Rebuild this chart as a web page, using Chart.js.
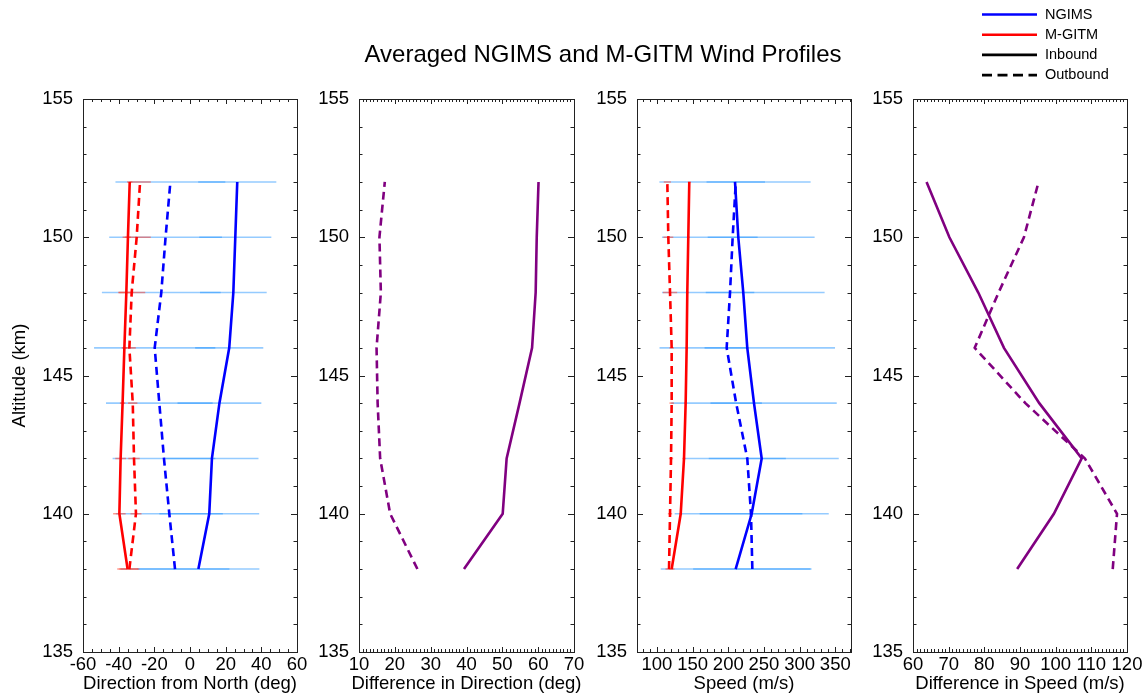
<!DOCTYPE html>
<html>
<head>
<meta charset="utf-8">
<title>Averaged NGIMS and M-GITM Wind Profiles</title>
<script src="https://cdn.jsdelivr.net/npm/chart.js@4.4.0/dist/chart.umd.min.js"></script>
<style>
    html, body { margin: 0; padding: 0; background: #fff; }
    #wrap { position: relative; width: 1147px; height: 696px; }
    #wrap canvas { position: absolute; left: 0; top: 0; }
</style>
</head>
<body>
<div id="wrap">
    <canvas id="direction-chart" width="1147" height="696"></canvas>
    <canvas id="dir-diff-chart" width="1147" height="696"></canvas>
    <canvas id="speed-chart" width="1147" height="696"></canvas>
    <canvas id="speed-diff-chart" width="1147" height="696"></canvas>
</div>
<script>
// altitudes (km), bottom to top
var altitudes = [138, 140, 142, 144, 146, 148, 150, 152];

// direction from north (deg)
var ngimsDirIn = [4.7, 10.8, 12.3, 16.5, 22.0, 24.3, 25.4, 26.5];
var ngimsDirOut = [-8.4, -11.6, -14.6, -17.2, -19.8, -16.1, -13.7, -11.0];
var mgitmDirIn = [-35.0, -39.6, -38.9, -37.8, -36.8, -35.7, -34.8, -33.8];
var mgitmDirOut = [-34.0, -30.3, -31.4, -32.1, -34.0, -32.7, -29.9, -28.0];
var ngimsDirInErr = [34.2, 28.0, 26.1, 23.5, 19.1, 18.7, 20.2, 21.9];
var ngimsDirOutErr = [30.5, 30.0, 28.8, 29.9, 34.0, 33.3, 31.6, 30.8];
var mgitmDirInErr = [5.8, 3.5, 3.0, 1.5, 1.5, 4.0, 1.7, 1.5];
var mgitmDirOutErr = [5.6, 3.1, 3.2, 2.6, 3.6, 7.6, 7.9, 6.0];

// difference in direction (deg)
var dirDiffIn = [39.3, 50.1, 51.2, 54.8, 58.3, 59.3, 59.6, 60.1];
var dirDiffOut = [26.3, 18.7, 15.9, 15.2, 14.9, 16.1, 15.7, 17.2];

// speed (m/s)
var ngimsSpeedIn = [210.3, 232.8, 246.8, 236.0, 226.6, 221.0, 214.0, 209.4];
var ngimsSpeedOut = [233.7, 231.8, 226.6, 211.0, 197.7, 202.4, 206.1, 210.5];
var mgitmSpeedIn = [120.6, 133.3, 137.9, 140.2, 141.6, 142.5, 143.9, 145.3];
var mgitmSpeedOut = [116.9, 118.3, 119.7, 120.6, 120.6, 118.3, 115.9, 114.5];
var ngimsSpeedInErr = [105, 108, 108, 116, 123, 114, 107, 106];
var ngimsSpeedOutErr = [83, 72, 54, 36, 31, 34, 35, 41];
var mgitmSpeedInErr = [4, 2, 2, 2, 2, 2, 2, 2];
var mgitmSpeedOutErr = [5, 3, 3, 3, 3, 10, 7, 5];

// difference in speed (m/s)
var speedDiffIn = [89.2, 99.5, 107.3, 95.4, 85.5, 78.3, 70.2, 63.8];
var speedDiffOut = [116.0, 117.2, 108.2, 91.5, 77.3, 84.0, 91.1, 95.2];

// tick labels
var altTicks = [135, 140, 145, 150, 155];
var dirTicks = [-60, -40, -20, 0, 20, 40, 60];
var dirDiffTicks = [10, 20, 30, 40, 50, 60, 70];
var speedTicks = [100, 150, 200, 250, 300, 350];
var speedDiffTicks = [60, 70, 80, 90, 100, 110, 120];

var legendLabels = ['NGIMS', 'M-GITM', 'Inbound', 'Outbound'];
var chartTitle = 'Averaged NGIMS and M-GITM Wind Profiles';

var BLUE = '#0000ff', RED = '#ff0000', PURPLE = '#800080';
var BAR_BLUE = 'rgba(30, 144, 255, 0.47)', BAR_RED = 'rgba(255, 70, 50, 0.55)';
var DASH = [8, 5];
var FONT = '"Liberation Sans", Arial, Helvetica, sans-serif';

Chart.defaults.font.family = FONT;
Chart.defaults.color = '#000';

function profile(values) {
    return altitudes.map(function (a, i) { return {x: values[i], y: a}; });
}

function errorBars(values, errors) {
    var pts = [];
    altitudes.forEach(function (a, i) {
        pts.push({x: values[i] - errors[i], y: a});
        pts.push({x: values[i] + errors[i], y: a});
        pts.push({x: null, y: null});
    });
    return pts;
}

function line(values, color, dashed) {
    return {
        data: profile(values), showLine: true, borderColor: color, borderWidth: 2.6,
        borderDash: dashed ? DASH : [], pointRadius: 0, order: 0
    };
}

function bars(values, errors, color, order) {
    return {
        data: errorBars(values, errors), showLine: true, borderColor: color, borderWidth: 1.6,
        pointRadius: 0, spanGaps: false, order: order
    };
}

// box round each panel with inward ticks on all four sides, plus the x title
var framePlugin = {
    id: 'frame',
    afterDatasetsDraw: function (chart, args, opts) {
        var ctx = chart.ctx, a = chart.chartArea;
        var xs = chart.scales.x, ys = chart.scales.y;
        var v, p, k, n;
        ctx.save();
        ctx.strokeStyle = '#222';
        ctx.lineWidth = 1;
        ctx.beginPath();
        // x ticks
        k = Math.ceil(xs.min / opts.minor - 1e-9);
        n = Math.floor(xs.max / opts.minor + 1e-9);
        for (; k <= n; k++) {
            v = k * opts.minor;
            p = Math.round(xs.getPixelForValue(v)) + 0.5;
            var len = opts.major.indexOf(v) >= 0 ? 5 : 3;
            ctx.moveTo(p, a.bottom); ctx.lineTo(p, a.bottom - len);
            ctx.moveTo(p, a.top); ctx.lineTo(p, a.top + len);
        }
        // y ticks
        for (v = ys.min; v <= ys.max; v++) {
            p = Math.round(ys.getPixelForValue(v)) + 0.5;
            var ylen = v % 5 === 0 ? 6 : 3.5;
            ctx.moveTo(a.left, p); ctx.lineTo(a.left + ylen, p);
            ctx.moveTo(a.right, p); ctx.lineTo(a.right - ylen, p);
        }
        ctx.stroke();
        ctx.strokeRect(Math.round(a.left) + 0.5, Math.round(a.top) + 0.5,
            Math.round(a.right - a.left), Math.round(a.bottom - a.top));

        ctx.fillStyle = '#000';
        ctx.font = '18.5px ' + FONT;
        ctx.textAlign = 'center';
        ctx.textBaseline = 'middle';
        ctx.fillText(opts.title, (a.left + a.right) / 2, 684);
        ctx.restore();
    }
};

// figure title and key
var headerPlugin = {
    id: 'header',
    afterDraw: function (chart) {
        var ctx = chart.ctx;
        var colors = [BLUE, RED, '#000', '#000'];
        ctx.save();
        ctx.fillStyle = '#000';
        ctx.font = '24px ' + FONT;
        ctx.textAlign = 'center';
        ctx.textBaseline = 'middle';
        ctx.fillText(chartTitle, 603, 55);
        ctx.font = '14.5px ' + FONT;
        ctx.textAlign = 'left';
        ctx.lineWidth = 2.6;
        legendLabels.forEach(function (label, i) {
            var y = 14.5 + i * 20.2;
            ctx.strokeStyle = colors[i];
            ctx.setLineDash(i === 3 ? [10, 5.5] : []);
            ctx.beginPath();
            ctx.moveTo(982, y);
            ctx.lineTo(1037, y);
            ctx.stroke();
            ctx.fillText(label, 1045, y);
        });
        ctx.restore();
    }
};

function makePanel(canvasId, cfg) {
    var yWidth = cfg.yTitle ? cfg.left : 50;
    return new Chart(document.getElementById(canvasId), {
        type: 'scatter',
        data: {datasets: cfg.datasets},
        options: {
            responsive: false, animation: false, devicePixelRatio: 1,
            events: [],
            layout: {
                padding: {left: cfg.left - yWidth, right: 1147 - cfg.right, top: 99, bottom: 0}
            },
            plugins: {
                legend: {display: false},
                tooltip: {enabled: false},
                frame: {minor: cfg.minor, major: cfg.ticks, title: cfg.title}
            },
            scales: {
                x: {
                    type: 'linear', position: 'bottom', min: cfg.min, max: cfg.max,
                    grid: {display: false, drawTicks: false},
                    border: {display: false},
                    afterBuildTicks: function (s) {
                        s.ticks = cfg.ticks.map(function (v) { return {value: v}; });
                    },
                    afterFit: function (s) { s.height = 44; },
                    ticks: {padding: 2, maxRotation: 0, autoSkip: false, font: {size: 18.5}}
                },
                y: {
                    type: 'linear', position: 'left', min: 135, max: 155,
                    grid: {display: false, drawTicks: false},
                    border: {display: false},
                    afterBuildTicks: function (s) {
                        s.ticks = altTicks.map(function (v) { return {value: v}; });
                    },
                    afterFit: function (s) { s.width = yWidth; },
                    ticks: {padding: 10, autoSkip: false, font: {size: 18.5}},
                    title: {
                        display: !!cfg.yTitle, text: cfg.yTitle || '',
                        padding: {top: 9, bottom: 0}, font: {size: 18.5}
                    }
                }
            }
        },
        plugins: cfg.extra ? [framePlugin, headerPlugin] : [framePlugin]
    });
}

makePanel('direction-chart', {
    left: 83, right: 297, min: -60, max: 60, ticks: dirTicks, minor: 5,
    title: 'Direction from North (deg)', yTitle: 'Altitude (km)',
    datasets: [
        line(ngimsDirIn, BLUE, false),
        line(ngimsDirOut, BLUE, true),
        line(mgitmDirIn, RED, false),
        line(mgitmDirOut, RED, true),
        bars(mgitmDirIn, mgitmDirInErr, BAR_RED, 1),
        bars(mgitmDirOut, mgitmDirOutErr, BAR_RED, 1),
        bars(ngimsDirIn, ngimsDirInErr, BAR_BLUE, 2),
        bars(ngimsDirOut, ngimsDirOutErr, BAR_BLUE, 2)
    ]
});

makePanel('dir-diff-chart', {
    left: 359, right: 574, min: 10, max: 70, ticks: dirDiffTicks, minor: 1,
    title: 'Difference in Direction (deg)',
    datasets: [
        line(dirDiffIn, PURPLE, false),
        line(dirDiffOut, PURPLE, true)
    ]
});

makePanel('speed-chart', {
    left: 637, right: 851, min: 72, max: 372, ticks: speedTicks, minor: 10,
    title: 'Speed (m/s)',
    datasets: [
        line(ngimsSpeedIn, BLUE, false),
        line(ngimsSpeedOut, BLUE, true),
        line(mgitmSpeedIn, RED, false),
        line(mgitmSpeedOut, RED, true),
        bars(mgitmSpeedIn, mgitmSpeedInErr, BAR_RED, 1),
        bars(mgitmSpeedOut, mgitmSpeedOutErr, BAR_RED, 1),
        bars(ngimsSpeedIn, ngimsSpeedInErr, BAR_BLUE, 2),
        bars(ngimsSpeedOut, ngimsSpeedOutErr, BAR_BLUE, 2)
    ]
});

makePanel('speed-diff-chart', {
    left: 913, right: 1127, min: 60, max: 120, ticks: speedDiffTicks, minor: 1,
    title: 'Difference in Speed (m/s)', extra: true,
    datasets: [
        line(speedDiffIn, PURPLE, false),
        line(speedDiffOut, PURPLE, true)
    ]
});
</script>
</body>
</html>
